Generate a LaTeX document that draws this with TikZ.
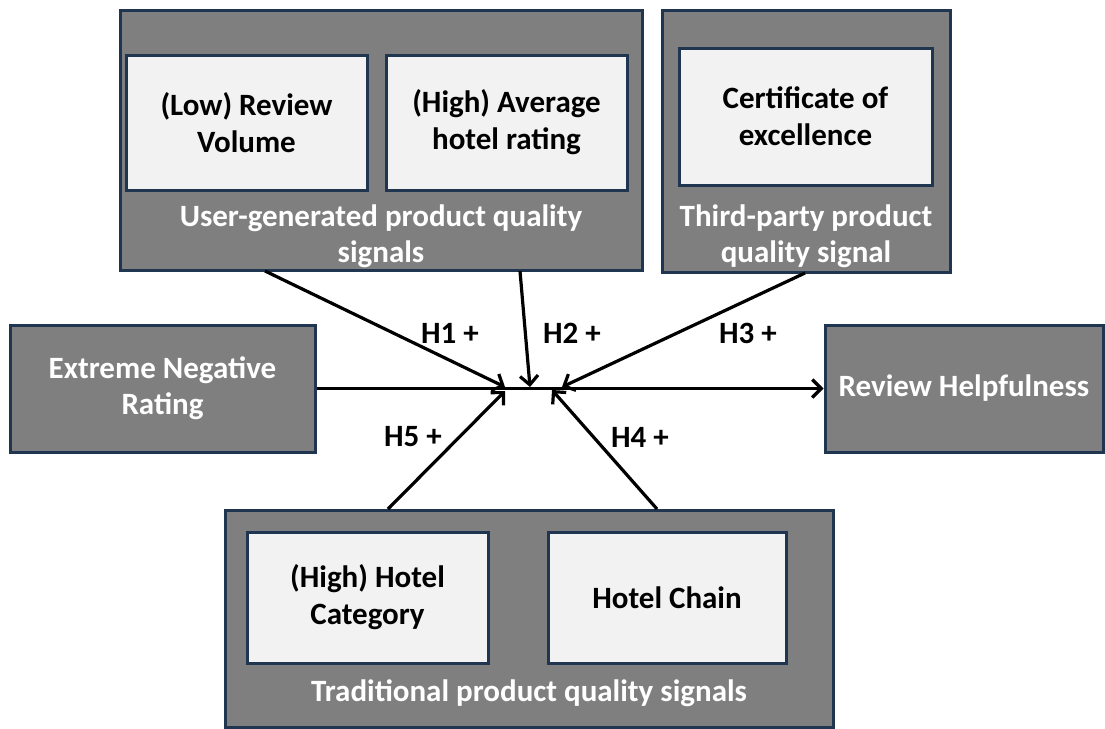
\documentclass[tikz,border=0pt]{standalone}
\usepackage{fontspec}
\setmainfont{Carlito}
\usetikzlibrary{arrows.meta}
\definecolor{boxgray}{HTML}{7F7F7F}
\definecolor{navy}{HTML}{1F3550}
\definecolor{inner}{HTML}{F2F2F2}
\tikzset{
  outerbox/.style={draw=navy, line width=3pt, fill=boxgray, inner sep=0pt},
  innerbox/.style={draw=navy, line width=3pt, fill=inner, inner sep=0pt, align=center, font=\fontsize{31}{37}\selectfont\bfseries},
  whitetxt/.style={text=white, align=center, font=\fontsize{31}{36}\selectfont\bfseries},
  hlab/.style={font=\fontsize{31}{36}\selectfont\bfseries},
  conn/.style={line width=3.2pt, -{Straight Barb[length=9pt,width=18pt,line width=3.2pt]}},
}
\begin{document}
\begin{tikzpicture}[x=1pt,y=-1pt]
\useasboundingbox (0,0) rectangle (1105,728);
% user-generated
\node[outerbox, minimum width=522pt, minimum height=260pt] (ug) at (381,140) {};
\node[innerbox, minimum width=241pt, minimum height=135pt] (lrv) at (246.5,122.5) {(Low) Review\\Volume};
\node[innerbox, minimum width=241pt, minimum height=135pt] (har) at (506.5,122.5) {(High) Average\\hotel rating};
\node[whitetxt] (uglab) at (381,236) {User-generated product quality\\signals};
% third-party
\node[outerbox, minimum width=288pt, minimum height=262pt] (tp) at (806,141) {};
\node[innerbox, minimum width=253pt, minimum height=137pt] (coe) at (805.5,116.5) {Certificate of\\excellence};
\node[whitetxt] (tplab) at (806,236) {Third-party product\\quality signal};
% left / right
\node[outerbox, whitetxt, minimum width=305pt, minimum height=127pt] (enr) at (162.5,388.5) {Extreme Negative\\Rating};
\node[outerbox, whitetxt, minimum width=278pt, minimum height=127pt] (rh) at (964,388.5) {Review Helpfulness};
% traditional
\node[outerbox, minimum width=608pt, minimum height=217pt] (trad) at (529,618.5) {};
\node[innerbox, minimum width=241pt, minimum height=131pt] (hhc) at (367.5,597.5) {(High) Hotel\\Category};
\node[innerbox, minimum width=238pt, minimum height=131pt] (hch) at (667,597.5) {Hotel Chain};
\node[whitetxt] (tradlab) at (529,693) {Traditional product quality signals};
% connectors
\coordinate (s1) at (265,271);
\coordinate (s2) at (520,271);
\coordinate (s3) at (805,273);
\coordinate (s4) at (657,509);
\coordinate (s5) at (388,509);
\coordinate (t1) at (505,387);
\coordinate (t2) at (530,387);
\coordinate (t3) at (562,387);
\coordinate (t4) at (552,390);
\coordinate (t5) at (505,391);
\draw[conn] (enr.east) -- (rh.west);
\draw[conn] (s1) -- (t1);
\draw[conn] (s2) -- (t2);
\draw[conn] (s3) -- (t3);
\draw[conn] (s4) -- (t4);
\draw[conn] (s5) -- (t5);
\node[hlab] (h1) at (450,333) {H1 +};
\node[hlab] (h2) at (572,333) {H2 +};
\node[hlab] (h3) at (748,333) {H3 +};
\node[hlab] (h5) at (413,437) {H5 +};
\node[hlab] (h4) at (640,437) {H4 +};
\end{tikzpicture}
\end{document}
